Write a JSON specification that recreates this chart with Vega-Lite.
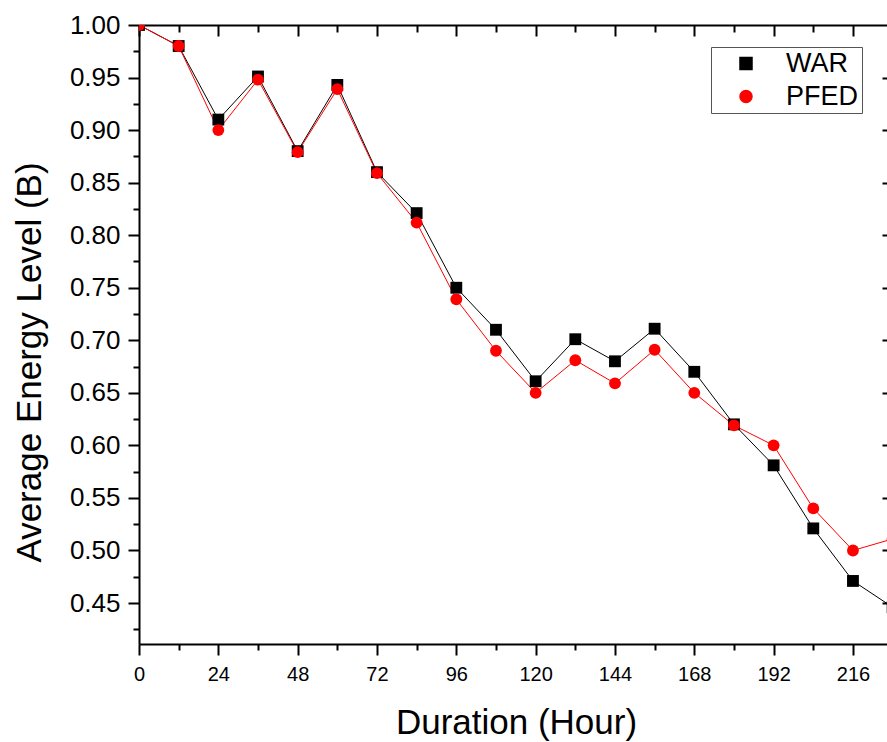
{
  "$schema": "https://vega.github.io/schema/vega-lite/v6.json",
  "width": 748,
  "height": 619,
  "autosize": {"type": "none"},
  "padding": {"left": 139, "top": 25, "right": 0, "bottom": 98},
  "background": "white",
  "config": {
    "font": "Liberation Sans",
    "view": {"stroke": null},
    "axis": {"grid": false, "domainColor": "black", "tickColor": "black", "domainWidth": 2, "tickWidth": 2, "labelColor": "black", "titleColor": "black", "labelFont": "Liberation Sans", "titleFont": "Liberation Sans", "titleFontWeight": "normal", "labelFlush": false, "labelOverlap": false}
  },
  "data": {
    "values": [
      {"hour": 0, "series": "WAR", "value": 1.0},
      {"hour": 12, "series": "WAR", "value": 0.98},
      {"hour": 24, "series": "WAR", "value": 0.91},
      {"hour": 36, "series": "WAR", "value": 0.951},
      {"hour": 48, "series": "WAR", "value": 0.88},
      {"hour": 60, "series": "WAR", "value": 0.943},
      {"hour": 72, "series": "WAR", "value": 0.86},
      {"hour": 84, "series": "WAR", "value": 0.821},
      {"hour": 96, "series": "WAR", "value": 0.75},
      {"hour": 108, "series": "WAR", "value": 0.71},
      {"hour": 120, "series": "WAR", "value": 0.661},
      {"hour": 132, "series": "WAR", "value": 0.701},
      {"hour": 144, "series": "WAR", "value": 0.68},
      {"hour": 156, "series": "WAR", "value": 0.711},
      {"hour": 168, "series": "WAR", "value": 0.67},
      {"hour": 180, "series": "WAR", "value": 0.62},
      {"hour": 192, "series": "WAR", "value": 0.581},
      {"hour": 204, "series": "WAR", "value": 0.521},
      {"hour": 216, "series": "WAR", "value": 0.471},
      {"hour": 228, "series": "WAR", "value": 0.446},
      {"hour": 0, "series": "PFED", "value": 1.0},
      {"hour": 12, "series": "PFED", "value": 0.98},
      {"hour": 24, "series": "PFED", "value": 0.90},
      {"hour": 36, "series": "PFED", "value": 0.948},
      {"hour": 48, "series": "PFED", "value": 0.879},
      {"hour": 60, "series": "PFED", "value": 0.939},
      {"hour": 72, "series": "PFED", "value": 0.859},
      {"hour": 84, "series": "PFED", "value": 0.812},
      {"hour": 96, "series": "PFED", "value": 0.739},
      {"hour": 108, "series": "PFED", "value": 0.69},
      {"hour": 120, "series": "PFED", "value": 0.65},
      {"hour": 132, "series": "PFED", "value": 0.681},
      {"hour": 144, "series": "PFED", "value": 0.659},
      {"hour": 156, "series": "PFED", "value": 0.691},
      {"hour": 168, "series": "PFED", "value": 0.65},
      {"hour": 180, "series": "PFED", "value": 0.619},
      {"hour": 192, "series": "PFED", "value": 0.60},
      {"hour": 204, "series": "PFED", "value": 0.54},
      {"hour": 216, "series": "PFED", "value": 0.50},
      {"hour": 228, "series": "PFED", "value": 0.511}
    ]
  },
  "layer": [
    {
      "mark": {"type": "line", "clip": true, "strokeWidth": 1},
      "encoding": {
        "x": {
          "field": "hour", "type": "quantitative",
          "scale": {"domain": [0, 226.3], "nice": false, "zero": false},
          "axis": {
            "orient": "bottom",
            "values": [0, 12, 24, 36, 48, 60, 72, 84, 96, 108, 120, 132, 144, 156, 168, 180, 192, 204, 216],
            "labelExpr": "datum.value % 24 === 0 ? datum.label : ''",
            "tickSize": {"condition": {"test": "datum.value % 24 === 0", "value": 11}, "value": 6},
            "labelFontSize": 20,
            "labelPadding": 9,
            "title": "Duration (Hour)",
            "titleFontSize": 35,
            "titleX": 377,
            "titleY": 89,
            "titleBaseline": "alphabetic"
          }
        },
        "y": {
          "field": "value", "type": "quantitative",
          "scale": {"domain": [0.411, 1.0], "nice": false, "zero": false},
          "axis": {
            "orient": "left",
            "values": [0.425, 0.45, 0.475, 0.5, 0.525, 0.55, 0.575, 0.6, 0.625, 0.65, 0.675, 0.7, 0.725, 0.75, 0.775, 0.8, 0.825, 0.85, 0.875, 0.9, 0.925, 0.95, 0.975, 1.0],
            "format": ".2f",
            "labelExpr": "abs(datum.value*20 - round(datum.value*20)) < 0.01 ? datum.label : ''",
            "tickSize": {"condition": {"test": "abs(datum.value*20 - round(datum.value*20)) < 0.01", "value": 11}, "value": 6},
            "labelFontSize": 26,
            "labelPadding": 8,
            "title": "Average Energy Level (B)",
            "titleFontSize": 35,
            "titleX": -110,
            "titleY": 337,
            "titleBaseline": "middle"
          }
        },
        "color": {
          "field": "series", "type": "nominal",
          "scale": {"domain": ["WAR", "PFED"], "range": ["#000000", "#ff0000"]},
          "legend": {
            "orient": "none",
            "legendX": 572,
            "legendY": 22,
            "title": null,
            "labelFontSize": 27,
            "labelColor": "black",
            "strokeColor": "#555555",
            "fillColor": "white",
            "padding": 3,
            "rowPadding": 5,
            "symbolSize": 144,
            "symbolOffset": 18.5,
            "labelOffset": 26.5
          }
        }
      }
    },
    {
      "mark": {"type": "point", "clip": true, "filled": true, "opacity": 1, "size": 140},
      "encoding": {
        "x": {
          "field": "hour", "type": "quantitative",
          "axis": {
            "orient": "top",
            "values": [0, 12, 24, 36, 48, 60, 72, 84, 96, 108, 120, 132, 144, 156, 168, 180, 192, 204, 216],
            "labels": false,
            "title": null,
            "tickSize": {"condition": {"test": "datum.value % 24 === 0", "value": -11}, "value": -7}
          }
        },
        "y": {
          "field": "value", "type": "quantitative",
          "axis": {
            "orient": "right",
            "values": [0.45, 0.5, 0.55, 0.6, 0.65, 0.7, 0.75, 0.8, 0.85, 0.9, 0.95],
            "labels": false,
            "title": null,
            "domain": false,
            "tickSize": -5
          }
        },
        "color": {
          "field": "series", "type": "nominal",
          "legend": {
            "orient": "none",
            "legendX": 572,
            "legendY": 22,
            "title": null,
            "labelFontSize": 27,
            "labelColor": "black",
            "strokeColor": "#555555",
            "fillColor": "white",
            "padding": 3,
            "rowPadding": 5,
            "symbolSize": 144,
            "symbolOffset": 18.5,
            "labelOffset": 26.5
          }
        },
        "shape": {
          "field": "series", "type": "nominal",
          "scale": {"domain": ["WAR", "PFED"], "range": ["square", "circle"]},
          "legend": null
        }
      }
    }
  ],
  "resolve": {"axis": {"x": "independent", "y": "independent"}}
}
